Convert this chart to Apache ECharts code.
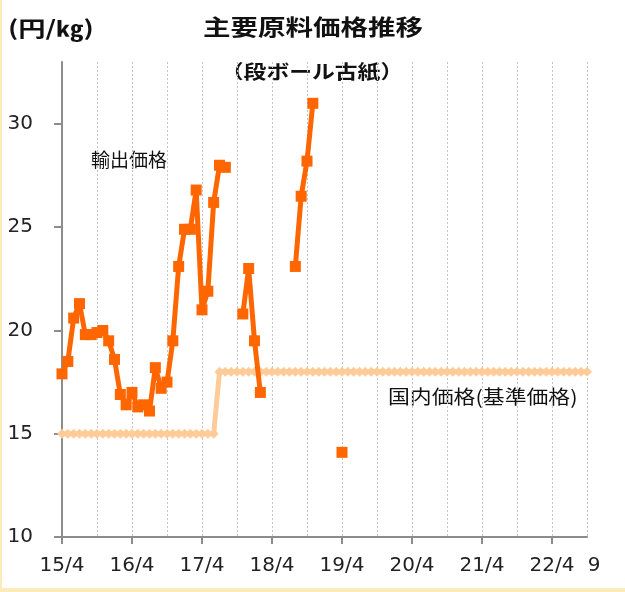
<!DOCTYPE html>
<html>
<head>
<meta charset="utf-8">
<script src="https://cdn.jsdelivr.net/npm/echarts@6/dist/echarts.min.js"></script>
<style>
  html, body { margin: 0; padding: 0; background: #fff; }
  #main { width: 625px; height: 592px; }
</style>
</head>
<body>
<div id="main"></div>
<script>
// months 15/4 .. 22/10
const months = []
for (let y = 15; y <= 22; y++) {
  for (let m = 1; m <= 12; m++) {
    if (y === 15 && m < 4) continue
    if (y === 22 && m > 10) continue
    months.push(y + "/" + m)
  }
}

// 輸出価格 (円/kg), gaps where no data
const exportPrice = [
  17.9, 18.5, 20.6, 21.3, 19.8, 19.8, 19.9, 20.0, 19.5, 18.6,
  16.9, 16.4, 17.0, 16.3, 16.4, 16.1, 18.2, 17.2, 17.5, 19.5,
  23.1, 24.9, 24.9, 26.8, 21.0, 21.9, 26.2, 28.0, 27.9, null,
  null, 20.8, 23.0, 19.5, 17.0, null, null, null, null, null,
  23.1, 26.5, 28.2, 31.0, null, null, null, null, 14.1, null,
  null, null, null, null, null, null, null, null, null, null,
  null, null, null, null, null, null, null, null, null, null,
  null, null, null, null, null, null, null, null, null, null,
  null, null, null, null, null, null, null, null, null, null,
  null
]

// 国内価格(基準価格)
const domesticPrice = [
  15, 15, 15, 15, 15, 15, 15, 15, 15, 15,
  15, 15, 15, 15, 15, 15, 15, 15, 15, 15,
  15, 15, 15, 15, 15, 15, 15, 18, 18, 18,
  18, 18, 18, 18, 18, 18, 18, 18, 18, 18,
  18, 18, 18, 18, 18, 18, 18, 18, 18, 18,
  18, 18, 18, 18, 18, 18, 18, 18, 18, 18,
  18, 18, 18, 18, 18, 18, 18, 18, 18, 18,
  18, 18, 18, 18, 18, 18, 18, 18, 18, 18,
  18, 18, 18, 18, 18, 18, 18, 18, 18, 18,
  18
]

const yTicks = [10, 15, 20, 25, 30]
const lastIdx = months.length - 1

const jp = "'Noto Sans CJK JP', sans-serif"
const axisFont = { fontFamily: "'DejaVu Sans', Verdana, sans-serif", fontSize: 20, color: "#222" }

const myChart = echarts.init(document.getElementById("main"))

myChart.setOption({
  animation: false,
  grid: { left: 62, right: 38, top: 62, bottom: 55 },
  xAxis: [
    {
      type: "category",
      data: months,
      boundaryGap: false,
      axisLine: { lineStyle: { color: "#8c8c8c", width: 2 } },
      axisTick: {
        interval: i => i % 12 === 0,
        length: 7,
        lineStyle: { color: "#8c8c8c", width: 2 }
      },
      axisLabel: { show: false },
      splitLine: {
        show: true,
        interval: 5,
        lineStyle: { color: "#c4c4c4", type: [2, 2], width: 1 }
      }
    },
    {
      // label-only axis, pushed down a bit
      type: "category",
      data: months,
      position: "bottom",
      offset: 11,
      boundaryGap: false,
      axisLine: { show: false },
      axisTick: { show: false },
      splitLine: { show: false },
      axisLabel: {
        ...axisFont,
        interval: i => i % 12 === 0 || i === lastIdx,
        formatter: (v, i) => i === lastIdx ? "{r|9}" : v,
        rich: { r: { ...axisFont, padding: [0, 0, 0, 14] } }
      }
    }
  ],
  yAxis: {
    type: "value",
    min: 10,
    max: 33,
    interval: 5,
    axisLine: { show: true, lineStyle: { color: "#8c8c8c", width: 2 } },
    axisTick: { show: true, length: 8, customValues: yTicks, lineStyle: { color: "#8c8c8c", width: 2 } },
    axisLabel: {
      ...axisFont,
      margin: 29,
      formatter: v => yTicks.includes(v) ? String(v) : ""
    },
    splitLine: { show: false }
  },
  series: [
    {
      name: "国内価格(基準価格)",
      type: "line",
      data: domesticPrice,
      symbol: "diamond",
      symbolSize: 10,
      showAllSymbol: true,
      lineStyle: { color: "#FFCC99", width: 5 },
      itemStyle: { color: "#FFCC99" },
      z: 2
    },
    {
      name: "輸出価格",
      type: "line",
      data: exportPrice,
      symbol: "rect",
      symbolSize: 11,
      showAllSymbol: true,
      lineStyle: { color: "#FF6600", width: 5 },
      itemStyle: { color: "#FF6600" },
      z: 3
    }
  ],
  graphic: [
    { type: "rect", left: 0, top: 0, shape: { width: 2, height: 592 }, style: { fill: "#FBEBB8" } },
    { type: "rect", left: 0, top: 588, shape: { width: 625, height: 4 }, style: { fill: "#FBEBB8" } },
    {
      type: "text", x: 8, y: 28, scaleX: 1.3,
      style: { text: "(円/㎏)", font: "bold 21px " + jp, fill: "#111", textVerticalAlign: "middle" }
    },
    {
      type: "text", x: 313, y: 27, scaleX: 1.25,
      style: { text: "主要原料価格推移", font: "bold 22px " + jp, fill: "#111", textAlign: "center", textVerticalAlign: "middle" }
    },
    {
      type: "text", x: 312, y: 72, scaleX: 1.2,
      style: { text: "（段ボール古紙）", font: "bold 19px " + jp, fill: "#111", textAlign: "center", textVerticalAlign: "middle" }
    },
    {
      type: "text", x: 91, y: 160,
      style: { text: "輸出価格", font: "19px " + jp, fill: "#111", textVerticalAlign: "middle" }
    },
    {
      type: "text", x: 388, y: 397, scaleX: 1.15,
      style: { text: "国内価格(基準価格)", font: "19px " + jp, fill: "#111", textVerticalAlign: "middle" }
    }
  ]
})
</script>
</body>
</html>
